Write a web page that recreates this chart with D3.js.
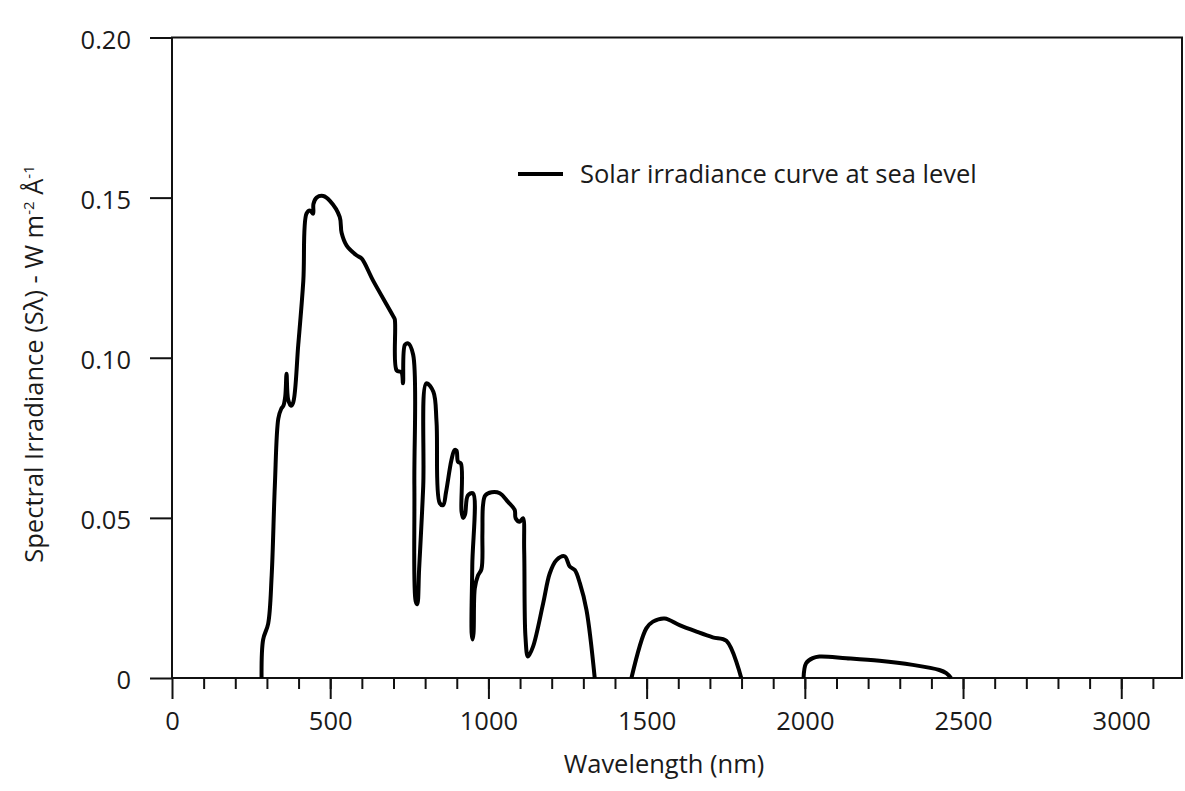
<!DOCTYPE html>
<html>
<head>
<meta charset="utf-8">
<script src="https://cdn.jsdelivr.net/npm/d3@7"></script>
<style>
  body { margin: 0; background: #fff; }
  text { font-family: "Open Sans", sans-serif; fill: #1a1a1a; }
</style>
</head>
<body>
<script>
var w = 1185, h = 791;

// solar spectrum at sea level (null = gap between bands)
var wavelength = [
  283, 288, 304, 315, 325, 336, 345, 352, 358, 362, 367, 376, 383, 399, 415, 425,
  436, 446, 447, 457, 478, 499, 530, 536, 552, 583, 599, 636, 699, 704, 710, 725,
  730, 736, 746, 762, 766, 770, 775, 781, 794, 804, 826, 836, 846, 857, 866, 883,
  893, 899, 904, 913, 915, 920, 926, 935, 951, 949, 947, 950, 953, 957, 967, 978,
  981, 983, 990, 1010, 1036, 1062, 1083, 1086, 1099, 1109, 1113, 1117, 1125, 1141,
  1173, 1194, 1215, 1241, 1257, 1273, 1289, 1310, 1336,
  null,
  1452, 1499, 1520, 1557, 1604, 1657, 1709, 1752, 1799,
  null,
  1996, 2004, 2025, 2046, 2131, 2236, 2341, 2425, 2447, 2462
];
var irradiance = [
  0, 0.012, 0.017, 0.032, 0.060, 0.081, 0.084, 0.085, 0.088, 0.095, 0.087, 0.085, 0.086, 0.104, 0.124, 0.145,
  0.146, 0.145, 0.148, 0.150, 0.1505, 0.149, 0.144, 0.139, 0.135, 0.132, 0.131, 0.124, 0.113, 0.112, 0.096, 0.0955,
  0.092, 0.104, 0.1045, 0.101, 0.060, 0.024, 0.023, 0.034, 0.060, 0.092, 0.0894, 0.080, 0.0546, 0.054, 0.058, 0.068,
  0.0712, 0.071, 0.0675, 0.067, 0.052, 0.050, 0.051, 0.057, 0.0577, 0.035, 0.014, 0.012, 0.014, 0.028, 0.032, 0.034,
  0.045, 0.054, 0.057, 0.058, 0.0577, 0.055, 0.0525, 0.0499, 0.0488, 0.0499, 0.040, 0.013, 0.0067, 0.0098,
  0.0233, 0.0327, 0.0368, 0.038, 0.0348, 0.0337, 0.0296, 0.0212, 0,
  null,
  0, 0.0155, 0.0176, 0.0186, 0.0165, 0.0145, 0.0127, 0.0116, 0,
  null,
  0, 0.0046, 0.0062, 0.0067, 0.0062, 0.0054, 0.0041, 0.0025, 0.0015, 0
];

var xMajor = [0, 500, 1000, 1500, 2000, 2500, 3000];
var xMinor = d3.range(100, 3200, 100);
var yTicks = [0, 0.05, 0.10, 0.15, 0.20];
var yTickLabels = ["0", "0.05", "0.10", "0.15", "0.20"];
var legendLabel = "Solar irradiance curve at sea level";

var points = wavelength.map(function(d, i) {
  return { wl: d, s: irradiance[i] };
});

var svg = d3.select("body")
  .append("svg")
  .attr("width", w)
  .attr("height", h)
  .style("background-color", "#fff");

var x = d3.scaleLinear()
  .domain([0, 3192])
  .range([172, 1182]);

var y = d3.scaleLinear()
  .domain([0, 0.20])
  .range([678, 37.5]);

// frame
svg.append("rect")
  .attr("x", x(0))
  .attr("y", y(0.20))
  .attr("width", x(3192) - x(0))
  .attr("height", y(0) - y(0.20))
  .style("fill", "none")
  .style("stroke", "#111")
  .style("stroke-width", 2);

// minor x ticks
var xMinorAxis = svg.append("g")
  .attr("transform", "translate(0," + y(0) + ")")
  .call(d3.axisBottom(x).tickValues(xMinor).tickSize(11).tickFormat(""));

// major x ticks
var xAxis = svg.append("g")
  .attr("transform", "translate(0," + y(0) + ")")
  .call(d3.axisBottom(x).tickValues(xMajor).tickSize(21).tickPadding(13)
    .tickFormat(d3.format("d")));

var yAxis = svg.append("g")
  .attr("transform", "translate(" + x(0) + ",0)")
  .call(d3.axisLeft(y).tickValues(yTicks).tickSize(22).tickPadding(19)
    .tickFormat(function(d, i) { return yTickLabels[i]; }));

[xMinorAxis, xAxis, yAxis].forEach(function(g) {
  g.select(".domain").remove();
  g.selectAll(".tick line").style("stroke", "#111").style("stroke-width", 2);
  g.selectAll(".tick text")
    .style("font-size", "25.5px")
    .style("font-family", "'Open Sans', sans-serif")
    .style("fill", "#1a1a1a");
});
yAxis.selectAll(".tick text").attr("dy", "0.42em");

// curve
var line = d3.line()
  .defined(function(d) { return d.s != null; })
  .x(function(d) { return x(d.wl); })
  .y(function(d) { return y(d.s); })
  .curve(d3.curveCatmullRom.alpha(0.5));

svg.append("path")
  .datum(points)
  .attr("d", line)
  .style("fill", "none")
  .style("stroke", "#000")
  .style("stroke-width", 4)
  .style("stroke-linejoin", "round");

// legend
svg.append("line")
  .attr("x1", 518)
  .attr("x2", 563)
  .attr("y1", 174)
  .attr("y2", 174)
  .style("stroke", "#000")
  .style("stroke-width", 4);

svg.append("text")
  .attr("x", 580)
  .attr("y", 183)
  .style("font-size", "25.5px")
  .text(legendLabel);

// axis titles
svg.append("text")
  .attr("x", 664)
  .attr("y", 773)
  .attr("text-anchor", "middle")
  .style("font-size", "25.5px")
  .text("Wavelength (nm)");

var yTitle = svg.append("text")
  .attr("transform", "translate(43,364) rotate(-90)")
  .attr("text-anchor", "middle")
  .style("font-size", "25.5px");
yTitle.append("tspan").text("Spectral Irradiance (S\u03bb) - W m");
yTitle.append("tspan").attr("dy", -9).style("font-size", "15px").text("-2");
yTitle.append("tspan").attr("dy", 9).text(" \u00c5");
yTitle.append("tspan").attr("dy", -9).style("font-size", "15px").text("-1");
</script>
</body>
</html>
